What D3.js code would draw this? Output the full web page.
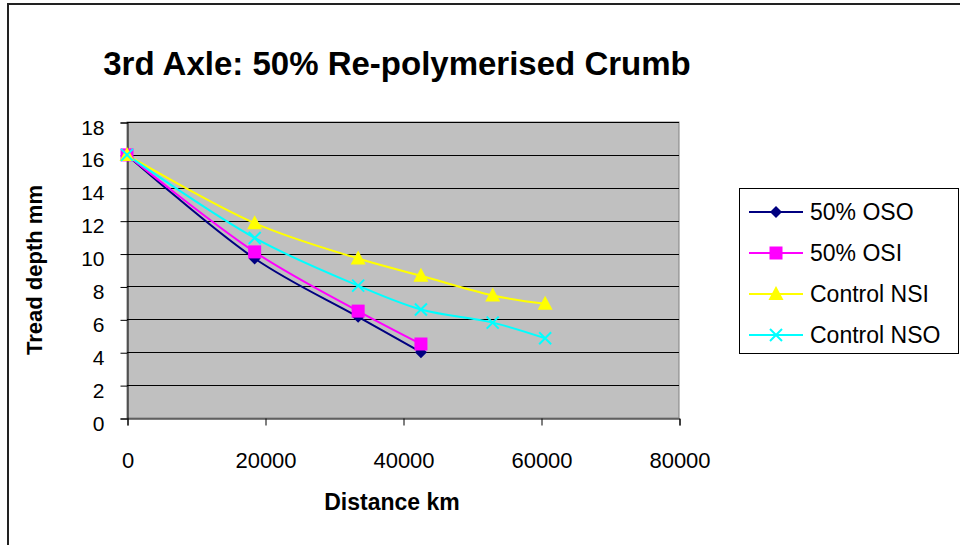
<!DOCTYPE html>
<html>
<head>
<meta charset="utf-8">
<script src="https://cdn.jsdelivr.net/npm/d3@7"></script>
<style>
  body { margin: 0; background: #fff; }
  text { font-family: "Liberation Sans", Arial, sans-serif; }
</style>
</head>
<body>
<div id="chart"></div>
<script>
var svgWidth = 960;
var svgHeight = 545;

// data
var seriesNames = ["50% OSO", "50% OSI", "Control NSI", "Control NSO"];
var osoX = [0, 18500, 33500, 42600];
var osoY = [16, 9.7, 6.15, 4.0];
var osiX = [0, 18500, 33500, 42600];
var osiY = [16, 10.1, 6.5, 4.5];
var nsiX = [0, 18500, 33500, 42600, 53000, 60600];
var nsiY = [16, 11.85, 9.7, 8.65, 7.45, 6.95];
var nsoX = [0, 18500, 33500, 42600, 53000, 60600];
var nsoY = [16, 10.95, 8.05, 6.6, 5.8, 4.85];
var xTicks = [0, 20000, 40000, 60000, 80000];
var yTicks = [0, 2, 4, 6, 8, 10, 12, 14, 16, 18];

var colors = ["#000080", "#ff00ff", "#ffff00", "#00ffff"];
var markers = ["diamond", "square", "triangle", "cross"];

var series = [
  {name: seriesNames[0], x: osoX, y: osoY},
  {name: seriesNames[1], x: osiX, y: osiY},
  {name: seriesNames[2], x: nsiX, y: nsiY},
  {name: seriesNames[3], x: nsoX, y: nsoY}
];

var plot = {left: 127, top: 122, right: 679, bottom: 418};

var svg = d3.select("#chart")
  .append("svg")
  .attr("width", svgWidth)
  .attr("height", svgHeight);

// outer chart border (right/bottom run off the page)
svg.append("rect")
  .attr("x", 8).attr("y", 4)
  .attr("width", 970).attr("height", 560)
  .attr("fill", "#fff")
  .attr("stroke", "#222")
  .attr("stroke-width", 2);

var xScale = d3.scaleLinear().domain([0, 80000]).range([plot.left, plot.right]);
var yScale = d3.scaleLinear().domain([0, 18]).range([plot.bottom, plot.top]);

// plot background
svg.append("rect")
  .attr("x", plot.left).attr("y", plot.top)
  .attr("width", plot.right - plot.left)
  .attr("height", plot.bottom - plot.top)
  .attr("fill", "#c0c0c0")
  .attr("stroke", "#808080")
  .attr("stroke-width", 1);

// gridlines
svg.append("g")
  .selectAll("line")
  .data(yTicks.slice(1))
  .enter()
  .append("line")
  .attr("x1", plot.left).attr("x2", plot.right)
  .attr("y1", d => Math.round(yScale(d)) + 0.5)
  .attr("y2", d => Math.round(yScale(d)) + 0.5)
  .attr("stroke", "#000")
  .attr("stroke-width", 1);

// axes
var bottomAxis = d3.axisBottom(xScale).tickValues(xTicks).tickSize(7).tickPadding(27).tickFormat(d3.format("d"));
var leftAxis = d3.axisLeft(yScale).tickValues(yTicks).tickSize(7).tickPadding(16);

var xAxisG = svg.append("g")
  .attr("transform", `translate(0.5, ${plot.bottom + 0.5})`)
  .call(bottomAxis);
var yAxisG = svg.append("g")
  .attr("transform", `translate(${plot.left + 0.5}, 0.5)`)
  .call(leftAxis);

[xAxisG, yAxisG].forEach(function(g) {
  g.select(".domain").attr("stroke", "#000");
  g.selectAll(".tick line").attr("stroke", "#000");
  g.selectAll(".tick text")
    .attr("font-family", "'Liberation Sans', Arial, sans-serif")
    .attr("fill", "#000");
});
xAxisG.selectAll(".tick text").attr("font-size", 22);
yAxisG.selectAll(".tick text").attr("font-size", 21).attr("dy", "0.55em");

// lines
var line = d3.line()
  .x(d => xScale(d[0]))
  .y(d => yScale(d[1]))
  .curve(d3.curveCatmullRom.alpha(0.5));

function drawMarker(g, type, color) {
  if (type === "diamond") {
    g.append("path").attr("d", "M0,-6L6,0L0,6L-6,0Z").attr("fill", color);
  } else if (type === "square") {
    g.append("rect").attr("x", -6.5).attr("y", -6.5).attr("width", 13).attr("height", 13).attr("fill", color);
  } else if (type === "triangle") {
    g.append("path").attr("d", "M0,-8L7.5,6L-7.5,6Z").attr("fill", color);
  } else {
    g.append("path").attr("d", "M-6,-6L6,6M-6,6L6,-6")
      .attr("stroke", color).attr("stroke-width", 2).attr("fill", "none");
  }
}

series.forEach(function(s, i) {
  var pts = s.x.map((x, j) => [x, s.y[j]]);
  svg.append("path")
    .datum(pts)
    .attr("d", line)
    .attr("fill", "none")
    .attr("stroke", colors[i])
    .attr("stroke-width", 2);
});

series.forEach(function(s, i) {
  var pts = s.x.map((x, j) => [x, s.y[j]]);
  svg.append("g").selectAll("g")
    .data(pts)
    .enter()
    .append("g")
    .attr("transform", d => `translate(${xScale(d[0])}, ${yScale(d[1])})`)
    .each(function() { drawMarker(d3.select(this), markers[i], colors[i]); });
});

// title
svg.append("text")
  .attr("x", 397).attr("y", 75)
  .attr("text-anchor", "middle")
  .attr("font-size", 33)
  .attr("font-weight", "bold")
  .text("3rd Axle: 50% Re-polymerised Crumb");

// axis titles
svg.append("text")
  .attr("x", 392).attr("y", 510)
  .attr("text-anchor", "middle")
  .attr("font-size", 23)
  .attr("font-weight", "bold")
  .text("Distance km");

svg.append("text")
  .attr("transform", "translate(42, 270) rotate(-90)")
  .attr("text-anchor", "middle")
  .attr("font-size", 22)
  .attr("font-weight", "bold")
  .text("Tread depth mm");

// legend
var legend = svg.append("g");
legend.append("rect")
  .attr("x", 739.5).attr("y", 188.5)
  .attr("width", 219).attr("height", 165)
  .attr("fill", "#fff")
  .attr("stroke", "#000")
  .attr("stroke-width", 1);

var legendY = [212, 253, 294, 335];
series.forEach(function(s, i) {
  var row = legend.append("g").attr("transform", `translate(0, ${legendY[i]})`);
  row.append("line")
    .attr("x1", 749).attr("x2", 803)
    .attr("stroke", colors[i]).attr("stroke-width", 2);
  drawMarker(row.append("g").attr("transform", "translate(776, 0)"), markers[i], colors[i]);
  row.append("text")
    .attr("x", 810).attr("y", 8)
    .attr("font-size", 23)
    .text(s.name);
});
</script>
</body>
</html>
